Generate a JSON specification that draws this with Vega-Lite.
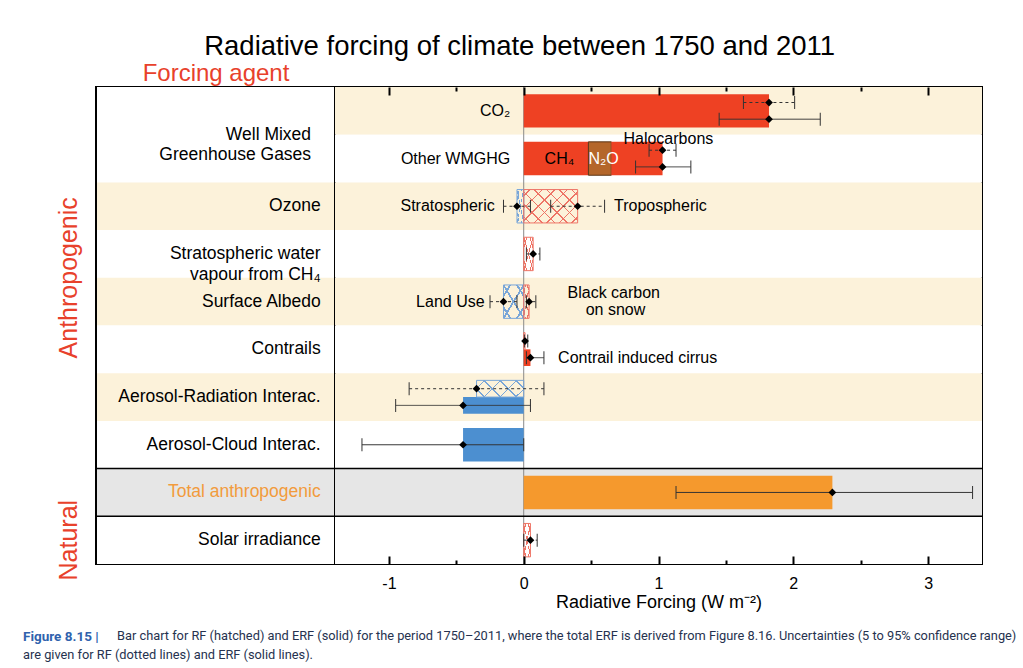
{
  "$schema": "https://vega.github.io/schema/vega-lite/v6.json",
  "padding": {"left": 22, "top": 32, "right": 5, "bottom": 5},
  "background": "white",
  "title": {"text": "Radiative forcing of climate between 1750 and 2011", "fontSize": 27.5, "fontWeight": "normal", "color": "black", "anchor": "middle", "offset": 0},
  "spacing": 0,
  "bounds": "flush",
  "config": {
    "font": "Liberation Sans",
    "view": {"stroke": "black", "strokeWidth": 2},
    "title": {"font": "Liberation Sans"},
    "axis": {"labelFont": "Liberation Sans", "titleFont": "Liberation Sans"},
    "text": {"font": "Liberation Sans"}
  },
  "datasets": {
    "rows": [
      {"row": "CO2", "section": "Well Mixed\nGreenhouse Gases", "category": "Anthropogenic"},
      {"row": "Other WMGHG", "section": "Well Mixed\nGreenhouse Gases", "category": "Anthropogenic"},
      {"row": "Ozone", "section": "Ozone", "category": "Anthropogenic"},
      {"row": "Stratospheric water vapour", "section": "Stratospheric water\nvapour from CH₄", "category": "Anthropogenic"},
      {"row": "Surface Albedo", "section": "Surface Albedo", "category": "Anthropogenic"},
      {"row": "Contrails", "section": "Contrails", "category": "Anthropogenic"},
      {"row": "Aerosol-Radiation", "section": "Aerosol-Radiation Interac.", "category": "Anthropogenic"},
      {"row": "Aerosol-Cloud", "section": "Aerosol-Cloud Interac.", "category": "Anthropogenic"},
      {"row": "Total anthropogenic", "section": "Total anthropogenic", "category": "Total"},
      {"row": "Solar irradiance", "section": "Solar irradiance", "category": "Natural"}
    ],
    "bars": [
      {"row": "CO2", "agent": "CO₂", "metric": "ERF", "pos": "full", "x0": 0, "x1": 1.82},
      {"row": "Other WMGHG", "agent": "CH₄", "metric": "ERF", "pos": "full", "x0": 0, "x1": 0.48},
      {"row": "Other WMGHG", "agent": "N₂O", "metric": "ERF", "pos": "full", "x0": 0.48, "x1": 0.65},
      {"row": "Other WMGHG", "agent": "Halocarbons", "metric": "ERF", "pos": "full", "x0": 0.65, "x1": 1.03},
      {"row": "Ozone", "agent": "Stratospheric", "metric": "RF", "pos": "full", "x0": -0.05, "x1": 0},
      {"row": "Ozone", "agent": "Tropospheric", "metric": "RF", "pos": "full", "x0": 0, "x1": 0.4},
      {"row": "Stratospheric water vapour", "agent": "Stratospheric water vapour", "metric": "RF", "pos": "full", "x0": 0, "x1": 0.07},
      {"row": "Surface Albedo", "agent": "Land Use", "metric": "RF", "pos": "full", "x0": -0.15, "x1": 0},
      {"row": "Surface Albedo", "agent": "Black carbon on snow", "metric": "RF", "pos": "full", "x0": 0, "x1": 0.04},
      {"row": "Contrails", "agent": "Contrails", "metric": "RF", "pos": "upper", "x0": 0, "x1": 0.01},
      {"row": "Contrails", "agent": "Contrail induced cirrus", "metric": "ERF", "pos": "lower", "x0": 0, "x1": 0.05},
      {"row": "Aerosol-Radiation", "agent": "Aerosol-Radiation", "metric": "RF", "pos": "upper", "x0": -0.35, "x1": 0},
      {"row": "Aerosol-Radiation", "agent": "Aerosol-Radiation", "metric": "ERF", "pos": "lower", "x0": -0.45, "x1": 0},
      {"row": "Aerosol-Cloud", "agent": "Aerosol-Cloud", "metric": "ERF", "pos": "full", "x0": -0.45, "x1": 0},
      {"row": "Total anthropogenic", "agent": "Total anthropogenic", "metric": "ERF", "pos": "full", "x0": 0, "x1": 2.29},
      {"row": "Solar irradiance", "agent": "Solar irradiance", "metric": "RF", "pos": "full", "x0": 0, "x1": 0.05}
    ],
    "errors": [
      {"row": "CO2", "metric": "RF", "pos": "upper", "best": 1.82, "lo": 1.63, "hi": 2.01},
      {"row": "CO2", "metric": "ERF", "pos": "lower", "best": 1.82, "lo": 1.45, "hi": 2.2},
      {"row": "Other WMGHG", "metric": "RF", "pos": "upper", "best": 1.03, "lo": 0.93, "hi": 1.13},
      {"row": "Other WMGHG", "metric": "ERF", "pos": "lower", "best": 1.03, "lo": 0.83, "hi": 1.24},
      {"row": "Ozone", "metric": "RF", "pos": "center", "best": -0.05, "lo": -0.15, "hi": 0.05},
      {"row": "Ozone", "metric": "RF", "pos": "center", "best": 0.4, "lo": 0.2, "hi": 0.6},
      {"row": "Stratospheric water vapour", "metric": "RF", "pos": "center", "best": 0.07, "lo": 0.02, "hi": 0.12},
      {"row": "Surface Albedo", "metric": "RF", "pos": "center", "best": -0.15, "lo": -0.25, "hi": -0.05},
      {"row": "Surface Albedo", "metric": "RF", "pos": "center", "best": 0.04, "lo": 0.02, "hi": 0.09},
      {"row": "Contrails", "metric": "RF", "pos": "upper", "best": 0.01, "lo": 0.005, "hi": 0.03},
      {"row": "Contrails", "metric": "ERF", "pos": "lower", "best": 0.05, "lo": 0.02, "hi": 0.15},
      {"row": "Aerosol-Radiation", "metric": "RF", "pos": "upper", "best": -0.35, "lo": -0.85, "hi": 0.15},
      {"row": "Aerosol-Radiation", "metric": "ERF", "pos": "lower", "best": -0.45, "lo": -0.95, "hi": 0.05},
      {"row": "Aerosol-Cloud", "metric": "ERF", "pos": "center", "best": -0.45, "lo": -1.2, "hi": 0},
      {"row": "Total anthropogenic", "metric": "ERF", "pos": "center", "best": 2.29, "lo": 1.13, "hi": 3.33},
      {"row": "Solar irradiance", "metric": "RF", "pos": "center", "best": 0.05, "lo": 0.0, "hi": 0.1}
    ],
    "notes": [
      {"row": "CO2", "text": "CO₂", "x": -0.1, "pos": "center"},
      {"row": "Other WMGHG", "text": "Other WMGHG", "x": -0.1, "pos": "center"},
      {"row": "Other WMGHG", "text": "CH₄", "x": 0.155, "pos": "center"},
      {"row": "Other WMGHG", "text": "N₂O", "x": 0.48, "pos": "center"},
      {"row": "Other WMGHG", "text": "Halocarbons", "x": 0.74, "pos": "top"},
      {"row": "Ozone", "text": "Stratospheric", "x": -0.215, "pos": "center"},
      {"row": "Ozone", "text": "Tropospheric", "x": 0.67, "pos": "center"},
      {"row": "Surface Albedo", "text": "Land Use", "x": -0.29, "pos": "center"},
      {"row": "Surface Albedo", "text": "Black carbon", "x": 0.325, "pos": "upper"},
      {"row": "Surface Albedo", "text": "on snow", "x": 0.46, "pos": "lower"},
      {"row": "Contrails", "text": "Contrail induced cirrus", "x": 0.255, "pos": "lower"}
    ]
  },
  "hconcat": [
    {
      "width": 239,
      "height": 477,
      "title": {"text": "Figure 8.15 |", "subtitle": "are given for RF (dotted lines) and ERF (solid lines).", "orient": "bottom", "anchor": "start", "frame": "group", "dx": -73, "offset": 50, "font": "Roboto", "fontSize": 13.5, "fontWeight": "bold", "color": "#2f62ad", "subtitleFont": "Roboto", "subtitleFontSize": 12.8, "subtitleColor": "#26324f", "subtitlePadding": 5},
      "resolve": {"axis": {"x": "independent"}},
      "layer": [
        {
          "data": {"name": "rows"},
          "transform": [
            {"window": [{"op": "row_number", "as": "idx"}]},
            {"joinaggregate": [{"op": "count", "as": "n"}], "groupby": ["section"]}
          ],
          "mark": {"type": "rect"},
          "encoding": {
            "x": {"datum": 0, "type": "quantitative", "scale": {"domain": [0, 1], "nice": false, "zero": false}, "axis": null},
            "x2": {"datum": 1},
            "y": {"field": "row", "type": "nominal", "scale": {"type": "band", "domain": ["CO2", "Other WMGHG", "Ozone", "Stratospheric water vapour", "Surface Albedo", "Contrails", "Aerosol-Radiation", "Aerosol-Cloud", "Total anthropogenic", "Solar irradiance"], "paddingInner": 0, "paddingOuter": 0}, "axis": null},
            "fill": {"condition": [{"test": "datum.category === 'Total'", "value": "#e6e6e6"}, {"test": "datum.idx % 2 === 1 && datum.n === 1", "value": "#fcf2da"}], "value": "white"}
          }
        },
        {
          "data": {"values": [{"edge": 0}, {"edge": 1}]},
          "mark": {"type": "rule", "color": "black", "strokeWidth": 2},
          "encoding": {
            "x": {"field": "edge", "type": "quantitative", "scale": {"domain": [0, 1], "nice": false, "zero": false}, "axis": {"orient": "top", "title": "Forcing agent", "values": [0, 1], "domain": false, "ticks": true, "tickSize": 0, "tickOpacity": 0, "labels": true, "labelExpr": "''", "labelPadding": 0, "grid": false, "titleColor": "#e8412b", "titleFontSize": 24, "titleFontWeight": "normal", "titlePadding": -8}}
          }
        },
        {
          "data": {"name": "rows"},
          "transform": [{"filter": "datum.category !== 'Anthropogenic'"}],
          "mark": {"type": "rule", "color": "black", "strokeWidth": 1.5},
          "encoding": {
            "y": {"field": "row", "type": "nominal", "bandPosition": 0, "axis": null}
          }
        },
        {
          "data": {"name": "rows"},
          "transform": [
            {"joinaggregate": [{"op": "count", "as": "n"}], "groupby": ["section"]},
            {"filter": "datum.n === 1"}
          ],
          "mark": {"type": "text", "align": "right", "baseline": "middle", "fontSize": 17.5, "lineBreak": "\n", "lineHeight": 21},
          "encoding": {
            "text": {"field": "section"},
            "x": {"datum": 0.94, "type": "quantitative", "axis": null},
            "y": {"field": "row", "type": "nominal", "axis": null},
            "color": {"condition": {"test": "datum.category === 'Total'", "value": "#f29b3c"}, "value": "black"}
          }
        },
        {
          "data": {"name": "rows"},
          "transform": [
            {"joinaggregate": [{"op": "count", "as": "n"}], "groupby": ["section"]},
            {"window": [{"op": "row_number", "as": "k"}], "groupby": ["section"]},
            {"filter": "datum.n === 2 && datum.k === 1"}
          ],
          "mark": {"type": "text", "align": "right", "baseline": "middle", "fontSize": 17.5, "lineBreak": "\n", "lineHeight": 20, "color": "black"},
          "encoding": {
            "text": {"field": "section"},
            "x": {"datum": 0.9, "type": "quantitative", "axis": null},
            "y": {"field": "row", "type": "nominal", "bandPosition": 1, "axis": null}
          }
        },
        {
          "data": {"name": "rows"},
          "transform": [{"filter": "datum.row === 'Stratospheric water vapour'"}],
          "mark": {"type": "text", "align": "center", "baseline": "middle", "angle": 270, "fontSize": 25, "color": "#e8412b"},
          "encoding": {
            "text": {"field": "category"},
            "x": {"datum": -0.113, "type": "quantitative", "axis": null},
            "y": {"field": "row", "type": "nominal", "bandPosition": 1, "axis": null}
          }
        },
        {
          "data": {"name": "rows"},
          "transform": [{"filter": "datum.row === 'Solar irradiance'"}],
          "mark": {"type": "text", "align": "center", "baseline": "middle", "angle": 270, "fontSize": 25, "color": "#e8412b"},
          "encoding": {
            "text": {"field": "category"},
            "x": {"datum": -0.113, "type": "quantitative", "axis": null},
            "y": {"field": "row", "type": "nominal", "axis": null}
          }
        }
      ]
    },
    {
      "width": 647,
      "height": 477,
      "title": {"text": "Bar chart for RF (hatched) and ERF (solid) for the period 1750–2011, where the total ERF is derived from Figure 8.16. Uncertainties (5 to 95% confidence range)", "orient": "bottom", "anchor": "start", "frame": "group", "dx": -218, "offset": 19, "font": "Roboto", "fontSize": 12.8, "fontWeight": "normal", "color": "#26324f"},
      "resolve": {"axis": {"x": "independent"}},
      "layer": [
        {
          "data": {"name": "rows"},
          "transform": [{"window": [{"op": "row_number", "as": "idx"}]}],
          "mark": {"type": "rect"},
          "encoding": {
            "x": {"datum": -1.4, "type": "quantitative", "scale": {"domain": [-1.4, 3.4], "nice": false, "zero": false}, "axis": null},
            "x2": {"datum": 3.4},
            "y": {"field": "row", "type": "nominal", "scale": {"type": "band", "domain": ["CO2", "Other WMGHG", "Ozone", "Stratospheric water vapour", "Surface Albedo", "Contrails", "Aerosol-Radiation", "Aerosol-Cloud", "Total anthropogenic", "Solar irradiance"], "paddingInner": 0, "paddingOuter": 0}, "axis": null},
            "fill": {"condition": [{"test": "datum.category === 'Total'", "value": "#e6e6e6"}, {"test": "datum.idx % 2 === 1 && datum.category === 'Anthropogenic'", "value": "#fcf2da"}], "value": "white"}
          }
        },
        {
          "data": {"values": [{"v": 0}]},
          "mark": {"type": "rule", "color": "#8a8a8a", "strokeWidth": 1},
          "encoding": {"x": {"field": "v", "type": "quantitative", "scale": {"domain": [-1.4, 3.4], "nice": false, "zero": false}, "axis": {"orient": "top", "values": [-1, -0.5, 0, 0.5, 1, 1.5, 2, 2.5, 3], "labels": false, "domain": false, "grid": false, "title": null, "zindex": 1, "tickColor": "black", "tickWidth": 2, "tickSize": {"condition": {"test": "datum.value % 1 !== 0", "value": -4}, "value": -8}}}}
        },
        {
          "data": {"name": "rows"},
          "transform": [{"filter": "datum.category !== 'Anthropogenic'"}],
          "mark": {"type": "rule", "color": "black", "strokeWidth": 1.5},
          "encoding": {"y": {"field": "row", "type": "nominal", "bandPosition": 0, "axis": null}}
        },
        {
          "data": {"name": "bars"},
          "transform": [{"filter": "datum.metric === 'ERF' && datum.pos === 'full'"}],
          "mark": {"type": "bar", "height": {"band": 0.7}, "strokeWidth": 1, "opacity": 1},
          "encoding": {
            "x": {"field": "x0", "type": "quantitative", "axis": {"orient": "bottom", "values": [-1, -0.5, 0, 0.5, 1, 1.5, 2, 2.5, 3], "domain": false, "grid": false, "zindex": 1, "tickColor": "black", "tickWidth": 2, "tickSize": {"condition": {"test": "datum.value % 1 !== 0", "value": -4}, "value": -8}, "labelExpr": "datum.value % 1 !== 0 ? '' : (datum.value < 0 ? '-' + abs(datum.value) : '' + datum.value)", "labelFontSize": 16, "labelColor": "black", "labelPadding": 19, "labelFlush": false, "title": "Radiative Forcing (W m⁻²)", "titleFontSize": 18, "titleFontWeight": "normal", "titleColor": "black", "titlePadding": 2}},
            "x2": {"field": "x1"},
            "y": {"field": "row", "type": "nominal", "axis": null},
            "fill": {"condition": [{"test": "datum.row === 'Total anthropogenic'", "value": "#f5992d"}, {"test": "datum.agent === 'N₂O'", "value": "#b4662a"}, {"test": "datum.x0 < 0", "value": "#4c8fd0"}], "value": "#ee4123"},
            "stroke": {"condition": {"test": "datum.agent === 'N₂O'", "value": "#5b3516"}, "value": null}
          }
        },
        {
          "data": {"name": "bars"},
          "transform": [{"filter": "datum.metric === 'ERF' && datum.pos !== 'full'"}],
          "mark": {"type": "bar", "opacity": 1},
          "encoding": {
            "x": {"field": "x0", "type": "quantitative", "axis": null},
            "x2": {"field": "x1"},
            "y": {"field": "row", "type": "nominal", "axis": null},
            "yOffset": {"field": "pos", "type": "nominal", "scale": {"domain": ["upper", "lower"], "paddingInner": 0, "paddingOuter": 0.43}},
            "fill": {"condition": {"test": "datum.x0 < 0", "value": "#4c8fd0"}, "value": "#ee4123"}
          }
        },
        {
          "data": {"name": "bars"},
          "transform": [{"filter": "datum.metric === 'RF' && datum.pos === 'full' && datum.x1 - datum.x0 >= 0.3"}],
          "mark": {"type": "bar", "height": {"band": 0.7}, "opacity": 1, "fill": {"gradient": "linear", "x1": 0, "y1": 0, "x2": 1.17, "y2": 0.725, "stops": [
            {"offset": 0, "color": "rgba(255,255,255,0)"},
            {"offset": 0.062, "color": "rgba(255,255,255,0)"}, {"offset": 0.062, "color": "#ee7466"}, {"offset": 0.08, "color": "#ee7466"}, {"offset": 0.08, "color": "rgba(255,255,255,0)"},
            {"offset": 0.205, "color": "rgba(255,255,255,0)"}, {"offset": 0.205, "color": "#ee7466"}, {"offset": 0.223, "color": "#ee7466"}, {"offset": 0.223, "color": "rgba(255,255,255,0)"},
            {"offset": 0.348, "color": "rgba(255,255,255,0)"}, {"offset": 0.348, "color": "#ee7466"}, {"offset": 0.366, "color": "#ee7466"}, {"offset": 0.366, "color": "rgba(255,255,255,0)"},
            {"offset": 0.491, "color": "rgba(255,255,255,0)"}, {"offset": 0.491, "color": "#ee7466"}, {"offset": 0.509, "color": "#ee7466"}, {"offset": 0.509, "color": "rgba(255,255,255,0)"},
            {"offset": 0.634, "color": "rgba(255,255,255,0)"}, {"offset": 0.634, "color": "#ee7466"}, {"offset": 0.652, "color": "#ee7466"}, {"offset": 0.652, "color": "rgba(255,255,255,0)"},
            {"offset": 0.777, "color": "rgba(255,255,255,0)"}, {"offset": 0.777, "color": "#ee7466"}, {"offset": 0.795, "color": "#ee7466"}, {"offset": 0.795, "color": "rgba(255,255,255,0)"},
            {"offset": 0.92, "color": "rgba(255,255,255,0)"}, {"offset": 0.92, "color": "#ee7466"}, {"offset": 0.938, "color": "#ee7466"}, {"offset": 0.938, "color": "rgba(255,255,255,0)"},
            {"offset": 1, "color": "rgba(255,255,255,0)"}]}},
          "encoding": {
            "x": {"field": "x0", "type": "quantitative", "axis": null},
            "x2": {"field": "x1"},
            "y": {"field": "row", "type": "nominal", "axis": null}
          }
        },
        {
          "data": {"name": "bars"},
          "transform": [{"filter": "datum.metric === 'RF' && datum.pos === 'full' && datum.x1 - datum.x0 >= 0.3"}],
          "mark": {"type": "bar", "height": {"band": 0.7}, "opacity": 1, "fill": {"gradient": "linear", "x1": 1, "y1": 0, "x2": -0.17, "y2": 0.725, "stops": [
            {"offset": 0, "color": "rgba(255,255,255,0)"},
            {"offset": 0.062, "color": "rgba(255,255,255,0)"}, {"offset": 0.062, "color": "#ee7466"}, {"offset": 0.08, "color": "#ee7466"}, {"offset": 0.08, "color": "rgba(255,255,255,0)"},
            {"offset": 0.205, "color": "rgba(255,255,255,0)"}, {"offset": 0.205, "color": "#ee7466"}, {"offset": 0.223, "color": "#ee7466"}, {"offset": 0.223, "color": "rgba(255,255,255,0)"},
            {"offset": 0.348, "color": "rgba(255,255,255,0)"}, {"offset": 0.348, "color": "#ee7466"}, {"offset": 0.366, "color": "#ee7466"}, {"offset": 0.366, "color": "rgba(255,255,255,0)"},
            {"offset": 0.491, "color": "rgba(255,255,255,0)"}, {"offset": 0.491, "color": "#ee7466"}, {"offset": 0.509, "color": "#ee7466"}, {"offset": 0.509, "color": "rgba(255,255,255,0)"},
            {"offset": 0.634, "color": "rgba(255,255,255,0)"}, {"offset": 0.634, "color": "#ee7466"}, {"offset": 0.652, "color": "#ee7466"}, {"offset": 0.652, "color": "rgba(255,255,255,0)"},
            {"offset": 0.777, "color": "rgba(255,255,255,0)"}, {"offset": 0.777, "color": "#ee7466"}, {"offset": 0.795, "color": "#ee7466"}, {"offset": 0.795, "color": "rgba(255,255,255,0)"},
            {"offset": 0.92, "color": "rgba(255,255,255,0)"}, {"offset": 0.92, "color": "#ee7466"}, {"offset": 0.938, "color": "#ee7466"}, {"offset": 0.938, "color": "rgba(255,255,255,0)"},
            {"offset": 1, "color": "rgba(255,255,255,0)"}]}},
          "encoding": {
            "x": {"field": "x0", "type": "quantitative", "axis": null},
            "x2": {"field": "x1"},
            "y": {"field": "row", "type": "nominal", "axis": null}
          }
        },
        {
          "data": {"name": "bars"},
          "transform": [{"filter": "datum.metric === 'RF' && datum.pos === 'full' && datum.x1 - datum.x0 < 0.3"}],
          "mark": {"type": "bar", "height": {"band": 0.7}, "opacity": 1},
          "encoding": {
            "x": {"field": "x0", "type": "quantitative", "axis": null},
            "x2": {"field": "x1"},
            "y": {"field": "row", "type": "nominal", "axis": null},
            "fill": {"condition": {"test": "datum.x0 < 0", "value": {"gradient": "linear", "x1": 0, "y1": 0, "x2": 1, "y2": 1, "stops": [
              {"offset": 0, "color": "rgba(255,255,255,0)"},
              {"offset": 0.142, "color": "rgba(255,255,255,0)"}, {"offset": 0.142, "color": "#79a6d8"}, {"offset": 0.192, "color": "#79a6d8"}, {"offset": 0.192, "color": "rgba(255,255,255,0)"},
              {"offset": 0.475, "color": "rgba(255,255,255,0)"}, {"offset": 0.475, "color": "#79a6d8"}, {"offset": 0.525, "color": "#79a6d8"}, {"offset": 0.525, "color": "rgba(255,255,255,0)"},
              {"offset": 0.808, "color": "rgba(255,255,255,0)"}, {"offset": 0.808, "color": "#79a6d8"}, {"offset": 0.858, "color": "#79a6d8"}, {"offset": 0.858, "color": "rgba(255,255,255,0)"},
              {"offset": 1, "color": "rgba(255,255,255,0)"}]}},
              "value": {"gradient": "linear", "x1": 0, "y1": 0, "x2": 1, "y2": 1, "stops": [
              {"offset": 0, "color": "rgba(255,255,255,0)"},
              {"offset": 0.142, "color": "rgba(255,255,255,0)"}, {"offset": 0.142, "color": "#ee7466"}, {"offset": 0.192, "color": "#ee7466"}, {"offset": 0.192, "color": "rgba(255,255,255,0)"},
              {"offset": 0.475, "color": "rgba(255,255,255,0)"}, {"offset": 0.475, "color": "#ee7466"}, {"offset": 0.525, "color": "#ee7466"}, {"offset": 0.525, "color": "rgba(255,255,255,0)"},
              {"offset": 0.808, "color": "rgba(255,255,255,0)"}, {"offset": 0.808, "color": "#ee7466"}, {"offset": 0.858, "color": "#ee7466"}, {"offset": 0.858, "color": "rgba(255,255,255,0)"},
              {"offset": 1, "color": "rgba(255,255,255,0)"}]}}
          }
        },
        {
          "data": {"name": "bars"},
          "transform": [{"filter": "datum.metric === 'RF' && datum.pos === 'full' && datum.x1 - datum.x0 < 0.3"}],
          "mark": {"type": "bar", "height": {"band": 0.7}, "opacity": 1},
          "encoding": {
            "x": {"field": "x0", "type": "quantitative", "axis": null},
            "x2": {"field": "x1"},
            "y": {"field": "row", "type": "nominal", "axis": null},
            "fill": {"condition": {"test": "datum.x0 < 0", "value": {"gradient": "linear", "x1": 1, "y1": 0, "x2": 0, "y2": 1, "stops": [
              {"offset": 0, "color": "rgba(255,255,255,0)"},
              {"offset": 0.142, "color": "rgba(255,255,255,0)"}, {"offset": 0.142, "color": "#79a6d8"}, {"offset": 0.192, "color": "#79a6d8"}, {"offset": 0.192, "color": "rgba(255,255,255,0)"},
              {"offset": 0.475, "color": "rgba(255,255,255,0)"}, {"offset": 0.475, "color": "#79a6d8"}, {"offset": 0.525, "color": "#79a6d8"}, {"offset": 0.525, "color": "rgba(255,255,255,0)"},
              {"offset": 0.808, "color": "rgba(255,255,255,0)"}, {"offset": 0.808, "color": "#79a6d8"}, {"offset": 0.858, "color": "#79a6d8"}, {"offset": 0.858, "color": "rgba(255,255,255,0)"},
              {"offset": 1, "color": "rgba(255,255,255,0)"}]}},
              "value": {"gradient": "linear", "x1": 1, "y1": 0, "x2": 0, "y2": 1, "stops": [
              {"offset": 0, "color": "rgba(255,255,255,0)"},
              {"offset": 0.142, "color": "rgba(255,255,255,0)"}, {"offset": 0.142, "color": "#ee7466"}, {"offset": 0.192, "color": "#ee7466"}, {"offset": 0.192, "color": "rgba(255,255,255,0)"},
              {"offset": 0.475, "color": "rgba(255,255,255,0)"}, {"offset": 0.475, "color": "#ee7466"}, {"offset": 0.525, "color": "#ee7466"}, {"offset": 0.525, "color": "rgba(255,255,255,0)"},
              {"offset": 0.808, "color": "rgba(255,255,255,0)"}, {"offset": 0.808, "color": "#ee7466"}, {"offset": 0.858, "color": "#ee7466"}, {"offset": 0.858, "color": "rgba(255,255,255,0)"},
              {"offset": 1, "color": "rgba(255,255,255,0)"}]}}
          }
        },
        {
          "data": {"name": "bars"},
          "transform": [{"filter": "datum.metric === 'RF' && datum.pos !== 'full' && datum.x1 - datum.x0 >= 0.3"}],
          "mark": {"type": "bar", "opacity": 1, "fill": {"gradient": "linear", "x1": 0, "y1": 0, "x2": 1.203, "y2": 0.426, "stops": [
            {"offset": 0, "color": "rgba(255,255,255,0)"},
            {"offset": 0.113, "color": "rgba(255,255,255,0)"}, {"offset": 0.113, "color": "#79a6d8"}, {"offset": 0.137, "color": "#79a6d8"}, {"offset": 0.137, "color": "rgba(255,255,255,0)"},
            {"offset": 0.363, "color": "rgba(255,255,255,0)"}, {"offset": 0.363, "color": "#79a6d8"}, {"offset": 0.387, "color": "#79a6d8"}, {"offset": 0.387, "color": "rgba(255,255,255,0)"},
            {"offset": 0.613, "color": "rgba(255,255,255,0)"}, {"offset": 0.613, "color": "#79a6d8"}, {"offset": 0.637, "color": "#79a6d8"}, {"offset": 0.637, "color": "rgba(255,255,255,0)"},
            {"offset": 0.863, "color": "rgba(255,255,255,0)"}, {"offset": 0.863, "color": "#79a6d8"}, {"offset": 0.887, "color": "#79a6d8"}, {"offset": 0.887, "color": "rgba(255,255,255,0)"},
            {"offset": 1, "color": "rgba(255,255,255,0)"}]}},
          "encoding": {
            "x": {"field": "x0", "type": "quantitative", "axis": null},
            "x2": {"field": "x1"},
            "y": {"field": "row", "type": "nominal", "axis": null},
            "yOffset": {"field": "pos", "type": "nominal", "scale": {"domain": ["upper", "lower"], "paddingInner": 0, "paddingOuter": 0.43}}
          }
        },
        {
          "data": {"name": "bars"},
          "transform": [{"filter": "datum.metric === 'RF' && datum.pos !== 'full' && datum.x1 - datum.x0 >= 0.3"}],
          "mark": {"type": "bar", "opacity": 1, "fill": {"gradient": "linear", "x1": 1, "y1": 0, "x2": -0.203, "y2": 0.426, "stops": [
            {"offset": 0, "color": "rgba(255,255,255,0)"},
            {"offset": 0.113, "color": "rgba(255,255,255,0)"}, {"offset": 0.113, "color": "#79a6d8"}, {"offset": 0.137, "color": "#79a6d8"}, {"offset": 0.137, "color": "rgba(255,255,255,0)"},
            {"offset": 0.363, "color": "rgba(255,255,255,0)"}, {"offset": 0.363, "color": "#79a6d8"}, {"offset": 0.387, "color": "#79a6d8"}, {"offset": 0.387, "color": "rgba(255,255,255,0)"},
            {"offset": 0.613, "color": "rgba(255,255,255,0)"}, {"offset": 0.613, "color": "#79a6d8"}, {"offset": 0.637, "color": "#79a6d8"}, {"offset": 0.637, "color": "rgba(255,255,255,0)"},
            {"offset": 0.863, "color": "rgba(255,255,255,0)"}, {"offset": 0.863, "color": "#79a6d8"}, {"offset": 0.887, "color": "#79a6d8"}, {"offset": 0.887, "color": "rgba(255,255,255,0)"},
            {"offset": 1, "color": "rgba(255,255,255,0)"}]}},
          "encoding": {
            "x": {"field": "x0", "type": "quantitative", "axis": null},
            "x2": {"field": "x1"},
            "y": {"field": "row", "type": "nominal", "axis": null},
            "yOffset": {"field": "pos", "type": "nominal", "scale": {"domain": ["upper", "lower"], "paddingInner": 0, "paddingOuter": 0.43}}
          }
        },
        {
          "data": {"name": "bars"},
          "transform": [{"filter": "datum.metric === 'RF' && datum.pos === 'full'"}],
          "mark": {"type": "bar", "height": {"band": 0.7}, "fillOpacity": 0, "strokeWidth": 1},
          "encoding": {
            "x": {"field": "x0", "type": "quantitative", "axis": null},
            "x2": {"field": "x1"},
            "y": {"field": "row", "type": "nominal", "axis": null},
            "stroke": {"condition": {"test": "datum.x0 < 0", "value": "#79a6d8"}, "value": "#ee7466"}
          }
        },
        {
          "data": {"name": "bars"},
          "transform": [{"filter": "datum.metric === 'RF' && datum.pos !== 'full'"}],
          "mark": {"type": "bar", "fillOpacity": 0, "strokeWidth": 1},
          "encoding": {
            "x": {"field": "x0", "type": "quantitative", "axis": null},
            "x2": {"field": "x1"},
            "y": {"field": "row", "type": "nominal", "axis": null},
            "yOffset": {"field": "pos", "type": "nominal", "scale": {"domain": ["upper", "lower"], "paddingInner": 0, "paddingOuter": 0.43}},
            "stroke": {"condition": {"test": "datum.x0 < 0", "value": "#79a6d8"}, "value": "#ee7466"}
          }
        },
        {
          "data": {"name": "errors"},
          "transform": [{"filter": "datum.pos === 'center'"}],
          "mark": {"type": "rule", "color": "#333333", "strokeWidth": 1},
          "encoding": {
            "x": {"field": "lo", "type": "quantitative", "axis": null},
            "x2": {"field": "hi"},
            "y": {"field": "row", "type": "nominal", "axis": null},
            "strokeDash": {"condition": {"test": "datum.metric === 'RF'", "value": [3, 3]}, "value": [1, 0]}
          }
        },
        {
          "data": {"name": "errors"},
          "transform": [{"filter": "datum.pos === 'center'"}, {"fold": ["lo", "hi"], "as": ["end", "xv"]}],
          "mark": {"type": "tick", "orient": "vertical", "size": 13, "thickness": 1, "color": "#333333", "opacity": 1},
          "encoding": {
            "x": {"field": "xv", "type": "quantitative", "axis": null},
            "y": {"field": "row", "type": "nominal", "axis": null}
          }
        },
        {
          "data": {"name": "errors"},
          "transform": [{"filter": "datum.pos === 'center'"}],
          "mark": {"type": "point", "shape": "diamond", "filled": true, "size": 60, "color": "black", "opacity": 1},
          "encoding": {
            "x": {"field": "best", "type": "quantitative", "axis": null},
            "y": {"field": "row", "type": "nominal", "axis": null}
          }
        },
        {
          "data": {"name": "errors"},
          "transform": [{"filter": "datum.pos !== 'center'"}],
          "mark": {"type": "rule", "color": "#333333", "strokeWidth": 1},
          "encoding": {
            "x": {"field": "lo", "type": "quantitative", "axis": null},
            "x2": {"field": "hi"},
            "y": {"field": "row", "type": "nominal", "axis": null},
            "yOffset": {"field": "pos", "type": "nominal", "scale": {"domain": ["upper", "lower"], "paddingInner": 0, "paddingOuter": 0.43}},
            "strokeDash": {"condition": {"test": "datum.metric === 'RF'", "value": [3, 3]}, "value": [1, 0]}
          }
        },
        {
          "data": {"name": "errors"},
          "transform": [{"filter": "datum.pos !== 'center'"}, {"fold": ["lo", "hi"], "as": ["end", "xv"]}],
          "mark": {"type": "tick", "orient": "vertical", "size": 13, "thickness": 1, "color": "#333333", "opacity": 1},
          "encoding": {
            "x": {"field": "xv", "type": "quantitative", "axis": null},
            "y": {"field": "row", "type": "nominal", "axis": null},
            "yOffset": {"field": "pos", "type": "nominal", "scale": {"domain": ["upper", "lower"], "paddingInner": 0, "paddingOuter": 0.43}}
          }
        },
        {
          "data": {"name": "errors"},
          "transform": [{"filter": "datum.pos !== 'center'"}],
          "mark": {"type": "point", "shape": "diamond", "filled": true, "size": 60, "color": "black", "opacity": 1},
          "encoding": {
            "x": {"field": "best", "type": "quantitative", "axis": null},
            "y": {"field": "row", "type": "nominal", "axis": null},
            "yOffset": {"field": "pos", "type": "nominal", "scale": {"domain": ["upper", "lower"], "paddingInner": 0, "paddingOuter": 0.43}}
          }
        },
        {
          "data": {"name": "notes"},
          "transform": [{"filter": "datum.pos === 'center' && datum.x < 0"}],
          "mark": {"type": "text", "align": "right", "baseline": "middle", "fontSize": 16, "color": "black"},
          "encoding": {
            "text": {"field": "text"},
            "x": {"field": "x", "type": "quantitative", "axis": null},
            "y": {"field": "row", "type": "nominal", "axis": null}
          }
        },
        {
          "data": {"name": "notes"},
          "transform": [{"filter": "datum.pos === 'center' && datum.x > 0"}],
          "mark": {"type": "text", "align": "left", "baseline": "middle", "fontSize": 16},
          "encoding": {
            "text": {"field": "text"},
            "x": {"field": "x", "type": "quantitative", "axis": null},
            "y": {"field": "row", "type": "nominal", "axis": null},
            "color": {"condition": {"test": "datum.text === 'N₂O'", "value": "white"}, "value": "black"}
          }
        },
        {
          "data": {"name": "notes"},
          "transform": [{"filter": "datum.pos === 'upper' || datum.pos === 'lower'"}],
          "mark": {"type": "text", "align": "left", "baseline": "middle", "fontSize": 16, "color": "black"},
          "encoding": {
            "text": {"field": "text"},
            "x": {"field": "x", "type": "quantitative", "axis": null},
            "y": {"field": "row", "type": "nominal", "axis": null},
            "yOffset": {"field": "pos", "type": "nominal", "scale": {"domain": ["upper", "lower"], "paddingInner": 0, "paddingOuter": 0.43}}
          }
        },
        {
          "data": {"name": "notes"},
          "transform": [{"filter": "datum.pos === 'top'"}],
          "mark": {"type": "text", "align": "left", "baseline": "middle", "fontSize": 16, "color": "black"},
          "encoding": {
            "text": {"field": "text"},
            "x": {"field": "x", "type": "quantitative", "axis": null},
            "y": {"field": "row", "type": "nominal", "bandPosition": 0.09, "axis": null}
          }
        }
      ]
    }
  ]
}
